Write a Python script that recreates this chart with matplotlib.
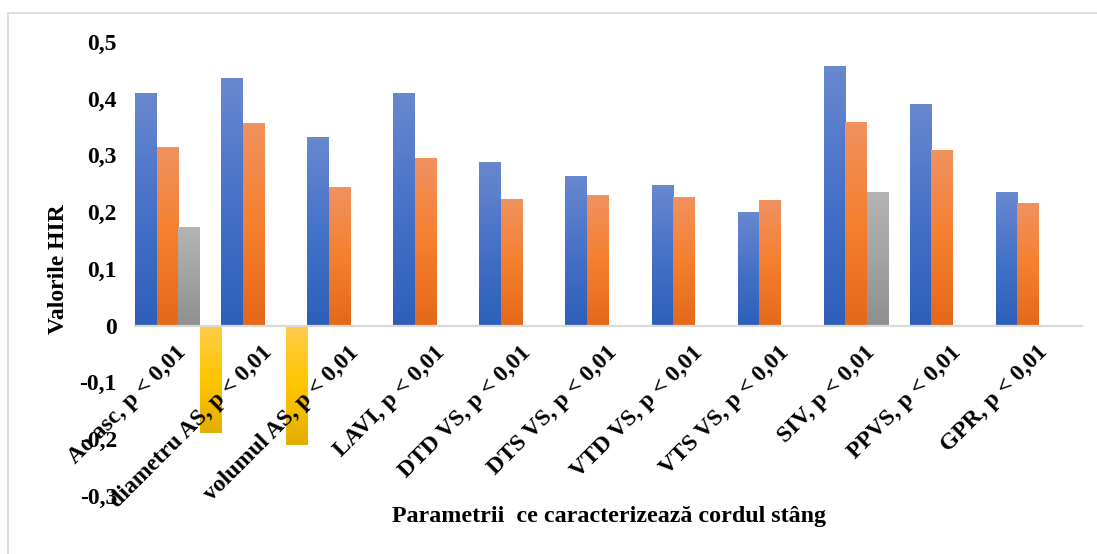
import numpy as np
import matplotlib
matplotlib.use("Agg")
import matplotlib.pyplot as plt
from matplotlib.colors import LinearSegmentedColormap
from matplotlib.lines import Line2D
from matplotlib.transforms import ScaledTranslation

plt.rcParams['font.family'] = ['Liberation Serif', 'DejaVu Serif']
plt.rcParams['font.weight'] = 'bold'

categories = [
    "Ao asc, p < 0,01", "diametru AS, p < 0,01", "volumul AS, p < 0,01",
    "LAVI, p < 0,01", "DTD VS, p < 0,01", "DTS VS, p < 0,01",
    "VTD VS, p < 0,01", "VTS VS, p < 0,01", "SIV, p < 0,01",
    "PPVS, p < 0,01", "GPR, p < 0,01",
]
nan = np.nan
series_blue = [0.41, 0.437, 0.333, 0.41, 0.289, 0.264, 0.248, 0.200, 0.458, 0.390, 0.235]
series_orange = [0.315, 0.358, 0.244, 0.296, 0.223, 0.230, 0.227, 0.221, 0.359, 0.310, 0.216]
series_gray = [0.174, nan, nan, nan, nan, nan, nan, nan, 0.235, nan, nan]
series_yellow = [-0.19, -0.21, nan, nan, nan, nan, nan, nan, nan, nan, nan]

y_ticks = [-0.3, -0.2, -0.1, 0, 0.1, 0.2, 0.3, 0.4, 0.5]
y_ticklabels = ["-0,3", "-0,2", "-0,1", "0", "0,1", "0,2", "0,3", "0,4", "0,5"]

# vertical gradients (top colour -> bottom colour) per series
gradients = [
    ["#6888CF", "#4672C8", "#2E5FB9"],
    ["#F0925F", "#F57F2E", "#E3691A"],
    ["#B4B4B4", "#A3A3A3", "#8F8F8F"],
    ["#FFCB4C", "#FFC600", "#E3AE00"],
]

fig = plt.figure(figsize=(10.97, 5.54), dpi=100)
ax = fig.add_axes([0.1231, 0.1054, 0.8632, 0.8188])

n = len(categories)
x = np.arange(n)
width = 0.25
all_series = [series_blue, series_orange, series_gray, series_yellow]

grad = np.linspace(0, 1, 256).reshape(-1, 1)
for i, (vals, stops) in enumerate(zip(all_series, gradients)):
    offs = (i - 1.5) * width
    bars = ax.bar(x + offs, vals, width, color=stops[1], linewidth=0, zorder=1)
    cmap = LinearSegmentedColormap.from_list("g%d" % i, stops[::-1])
    for p in bars:
        h = p.get_height()
        if not np.isfinite(h) or h == 0:
            continue
        x0, y0, w = p.get_x(), p.get_y(), p.get_width()
        ylo, yhi = min(y0, y0 + h), max(y0, y0 + h)
        im = ax.imshow(grad, extent=[x0, x0 + w, ylo, yhi], origin='lower',
                       cmap=cmap, aspect='auto', interpolation='bilinear', zorder=1.5)
        im.set_clip_path(p)

ax.set_xlim(-0.5, n - 0.5)
ax.set_ylim(-0.3, 0.5)
ax.set_aspect('auto')

for s in ['top', 'right', 'left']:
    ax.spines[s].set_visible(False)
ax.spines['bottom'].set_position(('data', 0))
ax.spines['bottom'].set_color('#D9D9D9')
ax.spines['bottom'].set_linewidth(1.6)
ax.spines['bottom'].set_zorder(3)

ax.set_yticks(y_ticks)
ax.set_yticklabels(y_ticklabels, fontsize=17, fontweight='bold')
ax.tick_params(axis='y', length=0, pad=13)

ax.set_xticks(x)
ax.set_xticklabels(categories, rotation=45, ha='right', va='center',
                   rotation_mode='anchor', fontsize=17, fontweight='bold')
ax.tick_params(axis='x', length=0, pad=17)
shift = ScaledTranslation(5 / 100, 0, fig.dpi_scale_trans)
for lbl in ax.get_xticklabels():
    lbl.set_transform(lbl.get_transform() + shift)
# category labels sit on top of the bars that hang below zero
ax.xaxis.set_zorder(4)
ax.yaxis.set_zorder(4)

ax.set_ylabel("Valorile HIR", fontsize=17, fontweight='bold')
ax.yaxis.set_label_coords(-0.0697, 0.5)

fig.text(0.5556, 0.0668, "Parametrii  ce caracterizează cordul stâng",
         ha='center', va='center', fontsize=17.3, fontweight='bold')

# chart-area border (top and left edges lie inside the image)
W, H = 1097, 554
fig.lines.append(Line2D([8 / W, 1.0], [1 - 13 / H, 1 - 13 / H], transform=fig.transFigure,
                        color='#D9D9D9', linewidth=1.2))
fig.lines.append(Line2D([8 / W, 8 / W], [0.0, 1 - 13 / H], transform=fig.transFigure,
                        color='#D9D9D9', linewidth=1.2))

fig.savefig("out.png", dpi=100)
